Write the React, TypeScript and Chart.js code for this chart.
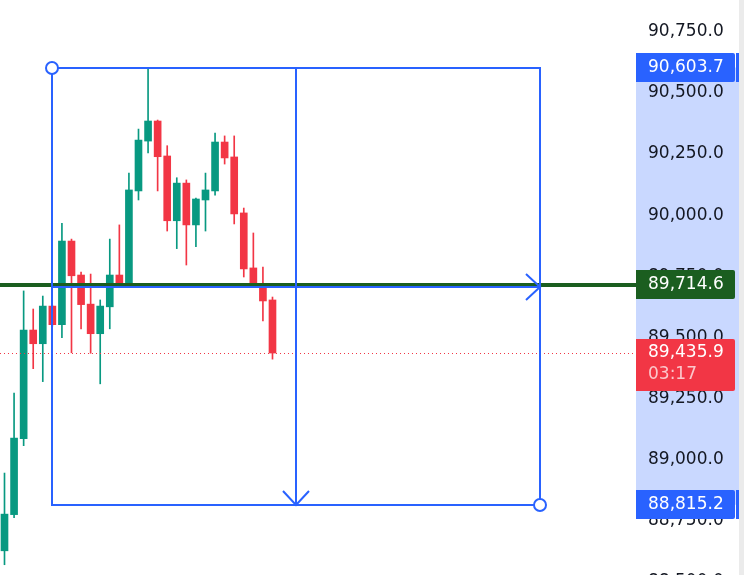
import React, { useEffect, useRef } from "react";
import { Chart, registerables } from "chart.js";

Chart.register(...registerables);

// ---- data ----
const candleIndex = [0, 1, 2, 3, 4, 5, 6, 7, 8, 9, 10, 11, 12, 13, 14, 15, 16, 17, 18, 19, 20, 21, 22, 23, 24, 25, 26, 27, 28];
const opens = [88627, 88775, 89086, 89530, 89474, 89628, 89552, 89894, 89755, 89636, 89515, 89625, 89755, 89710, 90099, 90303, 90385, 90242, 89977, 90131, 89960, 90062, 90099, 90299, 90238, 90009, 89784, 89703, 89653];
const highs = [88945, 89272, 89690, 89616, 89669, 89632, 89966, 89902, 89767, 89759, 89653, 89902, 89960, 90172, 90352, 90603.7, 90389, 90284, 90153, 90144, 90070, 90172, 90336, 90324, 90324, 90029, 89927, 89788, 89665];
const lows = [88570, 88762, 89057, 89372, 89319, 89546, 89499, 89437, 89535, 89435, 89310, 89535, 89706, 89706, 90062, 90255, 90099, 89935, 89863, 89796, 89871, 89935, 90082, 90209, 89964, 89747, 89706, 89567, 89411];
const closes = [88777, 89088, 89530, 89474, 89628, 89552, 89894, 89752, 89634, 89515, 89628, 89755, 89710, 90103, 90307, 90385, 90239, 89977, 90131, 89960, 90066, 90103, 90299, 90234, 90005, 89780, 89711, 89649, 89435.9];

const tickValues = [88500, 88750, 89000, 89250, 89500, 89750, 90000, 90250, 90500, 90750];

// drawing tool (date & price range) anchors: bar indices and prices
const rangeStartIndex = 5;
const rangeEndIndex = 56;
const rangeTopPrice = 90603.7;
const rangeBottomPrice = 88815.2;
const horizontalLinePrice = 89714.6;
const lastPrice = 89435.9;
const countdown = "03:17";

// visible window
const xMin = -0.4701;
const xMax = 65.98;
const yMin = 88528;
const yMax = 90880;

const GREEN = "#089981";
const RED = "#f23645";
const BLUE = "#2962ff";
const DARK_GREEN = "#1b5e20";
const FONT = "17px 'DejaVu Sans'";

const fmt = (v: number) =>
  v.toLocaleString("en-US", { minimumFractionDigits: 1, maximumFractionDigits: 1 });

function roundRightRect(ctx: CanvasRenderingContext2D, x: number, y: number, w: number, h: number, r: number) {
  ctx.beginPath();
  ctx.moveTo(x, y);
  ctx.lineTo(x + w - r, y);
  ctx.quadraticCurveTo(x + w, y, x + w, y + r);
  ctx.lineTo(x + w, y + h - r);
  ctx.quadraticCurveTo(x + w, y + h, x + w - r, y + h);
  ctx.lineTo(x, y + h);
  ctx.closePath();
  ctx.fill();
}

const overlayPlugin = {
  id: "overlay",
  beforeDraw(chart: any) {
    const { ctx, chartArea, scales } = chart;
    const y = scales.y;
    ctx.save();
    ctx.fillStyle = "#ffffff";
    ctx.fillRect(0, 0, chart.width, chart.height);
    ctx.fillStyle = "#ebebeb";
    ctx.fillRect(chart.width - 5, 0, 5, chart.height);
    const yt = y.getPixelForValue(rangeTopPrice);
    const yb = y.getPixelForValue(rangeBottomPrice);
    ctx.fillStyle = "rgba(41,98,255,0.25)";
    ctx.fillRect(chartArea.right, yt, chart.width - 5 - chartArea.right, yb - yt);
    ctx.restore();
  },
  afterDatasetsDraw(chart: any) {
    const { ctx, chartArea, scales } = chart;
    const x = scales.x;
    const y = scales.y;
    ctx.save();
    ctx.beginPath();
    ctx.rect(chartArea.left, chartArea.top, chartArea.right - chartArea.left, chartArea.bottom - chartArea.top);
    ctx.clip();

    // last price dotted line
    const yl = Math.round(y.getPixelForValue(lastPrice)) + 0.5;
    ctx.strokeStyle = RED;
    ctx.lineWidth = 1;
    ctx.setLineDash([1, 3]);
    ctx.beginPath();
    ctx.moveTo(chartArea.left, yl);
    ctx.lineTo(chartArea.right, yl);
    ctx.stroke();
    ctx.setLineDash([]);

    // horizontal line
    const yh = y.getPixelForValue(horizontalLinePrice);
    ctx.strokeStyle = DARK_GREEN;
    ctx.lineWidth = 4;
    ctx.beginPath();
    ctx.moveTo(chartArea.left, yh);
    ctx.lineTo(chartArea.right, yh);
    ctx.stroke();

    // range rectangle
    const x1 = Math.round(x.getPixelForValue(rangeStartIndex));
    const x2 = Math.round(x.getPixelForValue(rangeEndIndex));
    const yt = Math.round(y.getPixelForValue(rangeTopPrice));
    const yb = Math.round(y.getPixelForValue(rangeBottomPrice));
    const xm = Math.round((x1 + x2) / 2);
    const ym = Math.round((yt + yb) / 2);
    ctx.strokeStyle = BLUE;
    ctx.lineWidth = 2;
    ctx.strokeRect(x1, yt, x2 - x1, yb - yt);
    ctx.beginPath();
    ctx.moveTo(xm, yt);
    ctx.lineTo(xm, yb);
    ctx.moveTo(x1, ym);
    ctx.lineTo(x2, ym);
    ctx.stroke();
    // arrow heads
    ctx.beginPath();
    ctx.moveTo(xm - 13, yb - 14);
    ctx.lineTo(xm, yb);
    ctx.lineTo(xm + 13, yb - 14);
    ctx.moveTo(x2 - 14, ym - 13);
    ctx.lineTo(x2, ym);
    ctx.lineTo(x2 - 14, ym + 13);
    ctx.stroke();
    ctx.restore();

    // handles
    ctx.save();
    ctx.strokeStyle = BLUE;
    ctx.lineWidth = 2;
    ctx.fillStyle = "#ffffff";
    for (const [hx, hy] of [[x1, yt], [x2, yb]]) {
      ctx.beginPath();
      ctx.arc(hx, hy, 6, 0, Math.PI * 2);
      ctx.fill();
      ctx.stroke();
    }
    ctx.restore();
  },
  afterDraw(chart: any) {
    const { ctx, chartArea, scales } = chart;
    const y = scales.y;
    const left = chartArea.right;
    const w = 99;
    const textX = left + 12;
    ctx.save();
    ctx.font = FONT;
    ctx.textAlign = "left";
    ctx.textBaseline = "middle";

    const label = (price: number, color: string, marker: boolean) => {
      const py = y.getPixelForValue(price);
      const top = Math.round(py - 14.5);
      ctx.fillStyle = color;
      roundRightRect(ctx, left, top, w, 29, 2);
      if (marker) ctx.fillRect(left + w + 1, top, 3, 29);
      ctx.fillStyle = "#ffffff";
      ctx.fillText(fmt(price), textX, top + 15);
    };
    label(rangeTopPrice, BLUE, true);
    label(horizontalLinePrice, DARK_GREEN, false);
    label(rangeBottomPrice, BLUE, true);

    // last price + countdown
    const py = y.getPixelForValue(lastPrice);
    const top = Math.round(py - 14);
    ctx.fillStyle = RED;
    roundRightRect(ctx, left, top, w, 52, 2);
    ctx.fillStyle = "#ffffff";
    ctx.fillText(fmt(lastPrice), textX, top + 14);
    ctx.fillStyle = "rgba(255,255,255,0.72)";
    ctx.fillText(countdown, textX, top + 36);
    ctx.restore();
  },
};

export default function App() {
  const canvasRef = useRef<HTMLCanvasElement | null>(null);

  useEffect(() => {
    const canvas = canvasRef.current;
    if (!canvas) return;
    const colors = candleIndex.map((_, i) => (closes[i] >= opens[i] ? GREEN : RED));
    const chart = new Chart(canvas, {
      type: "bar",
      data: {
        datasets: [
          {
            label: "wicks",
            data: candleIndex.map((i) => ({ x: i, y: [lows[i], highs[i]] })) as any,
            backgroundColor: colors,
            barThickness: 1,
            grouped: false,
            borderWidth: 0,
          } as any,
          {
            label: "bodies",
            data: candleIndex.map((i) => ({ x: i, y: [opens[i], closes[i]] })) as any,
            backgroundColor: colors,
            barThickness: 7,
            grouped: false,
            borderWidth: 0,
          } as any,
        ],
      },
      options: {
        animation: false,
        responsive: false,
        devicePixelRatio: 1,
        events: [],
        layout: { padding: 0 },
        plugins: { legend: { display: false }, tooltip: { enabled: false } },
        scales: {
          x: {
            type: "linear",
            min: xMin,
            max: xMax,
            offset: false,
            display: false,
          },
          y: {
            type: "linear",
            position: "right",
            min: yMin,
            max: yMax,
            grid: { display: false, drawTicks: false },
            border: { display: false },
            ticks: {
              autoSkip: false,
              padding: 12,
              color: "#131722",
              font: { family: "'DejaVu Sans'", size: 17 },
              callback: (v: any) => fmt(Number(v)),
            },
            afterBuildTicks: (scale: any) => {
              scale.ticks = tickValues.map((v) => ({ value: v }));
            },
            afterFit: (scale: any) => {
              scale.width = 108;
              scale.paddingTop = 0;
              scale.paddingBottom = 0;
            },
          },
        },
      } as any,
      plugins: [overlayPlugin],
    });
    return () => chart.destroy();
  }, []);

  return (
    <div style={{ position: "fixed", left: 0, top: 0, width: 744, height: 575, background: "#fff" }}>
      <canvas ref={canvasRef} width={744} height={575} style={{ display: "block" }} />
    </div>
  );
}
